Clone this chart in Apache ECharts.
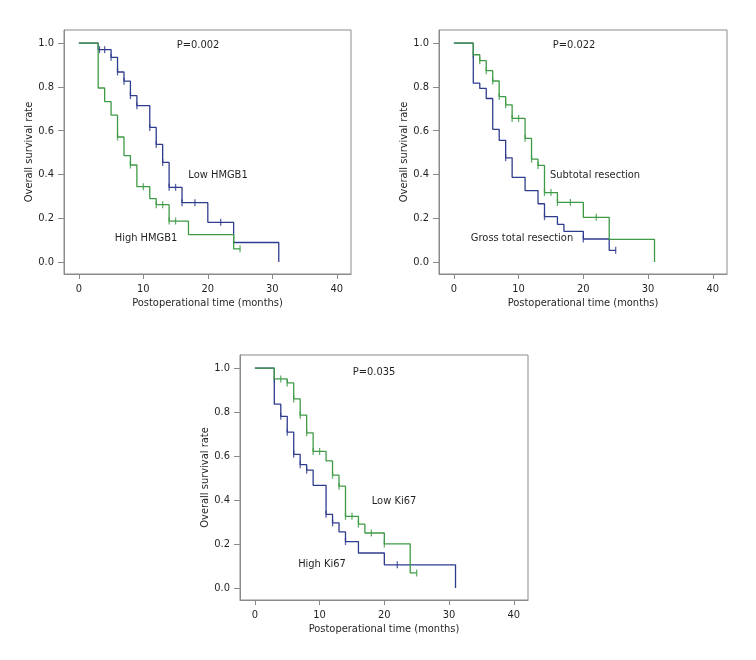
<!DOCTYPE html>
<html>
<head>
<meta charset="utf-8">
<script src="https://cdn.jsdelivr.net/npm/echarts@6/dist/echarts.min.js"></script>
<style>
  html, body { margin: 0; padding: 0; background: #fff; }
  #chart { width: 756px; height: 660px; }
</style>
</head>
<body>
<div id="chart"></div>
<script>
/* data */
const xTicks = [0, 10, 20, 30, 40];
const yTicks = [0, 0.2, 0.4, 0.6, 0.8, 1.0];
const pLabels = ["P=0.002", "P=0.022", "P=0.035"];

// panel 1 : HMGB1
const lowHmgbTime = [0, 3, 5, 6, 7, 8, 9, 11, 12, 13, 14, 16, 20, 24, 31];
const lowHmgbSurv = [1, 0.97, 0.935, 0.868, 0.826, 0.76, 0.714, 0.615, 0.537, 0.455, 0.341, 0.271, 0.181, 0.089, 0];
const lowHmgbCensor = [3.2, 4, 5, 6, 7, 8, 9, 11, 12, 13, 14, 15, 16, 18, 22];
const highHmgbTime = [0, 3, 4, 5, 6, 7, 8, 9, 11, 12, 14, 17, 24, 25];
const highHmgbSurv = [1, 0.795, 0.733, 0.671, 0.571, 0.486, 0.443, 0.344, 0.289, 0.262, 0.187, 0.125, 0.06, 0.06];
const highHmgbCensor = [6, 8, 10, 12, 13, 14, 15, 25];

// panel 2 : resection
const grossTime = [0, 3, 4, 5, 6, 7, 8, 9, 11, 13, 14, 16, 17, 20, 24, 25];
const grossSurv = [1, 0.817, 0.793, 0.747, 0.606, 0.556, 0.476, 0.387, 0.326, 0.266, 0.207, 0.172, 0.14, 0.105, 0.053, 0.053];
const grossCensor = [8, 14, 20, 25];
const subTime = [0, 3, 4, 5, 6, 7, 8, 9, 11, 12, 13, 14, 16, 20, 24, 31];
const subSurv = [1, 0.947, 0.92, 0.874, 0.827, 0.756, 0.718, 0.656, 0.565, 0.47, 0.441, 0.317, 0.272, 0.204, 0.103, 0];
const subCensor = [3, 4, 5, 6, 7, 8, 9, 10, 11, 12, 13, 14, 15, 16, 18, 22];

// panel 3 : Ki67
const highKiTime = [0, 3, 4, 5, 6, 7, 8, 9, 11, 12, 13, 14, 16, 20, 31];
const highKiSurv = [1, 0.836, 0.781, 0.709, 0.608, 0.561, 0.536, 0.467, 0.335, 0.296, 0.255, 0.211, 0.159, 0.105, 0];
const highKiCensor = [4, 5, 6, 7, 8, 11, 12, 14, 22];
const lowKiTime = [0, 3, 5, 6, 7, 8, 9, 11, 12, 13, 14, 16, 17, 20, 24, 25];
const lowKiSurv = [1, 0.951, 0.933, 0.86, 0.786, 0.706, 0.621, 0.578, 0.513, 0.463, 0.326, 0.29, 0.25, 0.2, 0.068, 0.068];
const lowKiCensor = [3, 4, 5, 6, 7, 8, 9, 10, 12, 13, 14, 15, 16, 18, 20, 25];


const FONT = '"Liberation Sans Narrow", "DejaVu Sans Condensed", sans-serif';
const BLUE = "#2f3c8e";
const GREEN = "#3e9a45";
const AXIS = "#8a8a8a";
const TEXT = "#231f20";

const grids = [
  { left: 64, top: 30, width: 287, height: 244 },
  { left: 439, top: 30, width: 288, height: 244 },
  { left: 240, top: 355, width: 288, height: 245 }
];

// survival level of a curve at time t (for censor marks)
function levelAt(times, surv, t) {
  let v = surv[0];
  for (let i = 0; i < times.length; i++) {
    if (times[i] <= t) v = surv[i];
  }
  return v;
}

function curve(idx, times, surv, color) {
  return {
    type: "line",
    xAxisIndex: idx,
    yAxisIndex: idx,
    step: "end",
    showSymbol: false,
    silent: true,
    lineStyle: { color: color, width: 1.3 },
    data: times.map((t, i) => [t, surv[i]])
  };
}

function censor(idx, times, surv, marks, color) {
  return {
    type: "scatter",
    xAxisIndex: idx,
    yAxisIndex: idx,
    symbol: "rect",
    symbolSize: [1.3, 7],
    silent: true,
    itemStyle: { color: color },
    data: marks.map(t => [t, levelAt(times, surv, t)])
  };
}

const xAxes = grids.map((g, i) => ({
  gridIndex: i,
  type: "value",
  min: -2.3,
  max: 42.2,
  name: "Postoperational time (months)",
  nameLocation: "middle",
  nameGap: 24,
  nameTextStyle: { fontFamily: FONT, fontSize: 11, color: TEXT },
  axisLine: { onZero: false, lineStyle: { color: AXIS, width: 1 } },
  axisTick: { customValues: xTicks, length: 5, lineStyle: { color: AXIS } },
  axisLabel: { customValues: xTicks, margin: 10, fontFamily: FONT, fontSize: 11, color: TEXT },
  splitLine: { show: false }
}));

const yAxes = grids.map((g, i) => ({
  gridIndex: i,
  type: "value",
  min: -0.055,
  max: 1.06,
  name: "Overall survival rate",
  nameLocation: "middle",
  nameGap: 29,
  nameTextStyle: { fontFamily: FONT, fontSize: 11, color: TEXT },
  axisLine: { onZero: false, lineStyle: { color: AXIS, width: 1 } },
  axisTick: { customValues: yTicks, length: 6, lineStyle: { color: AXIS } },
  axisLabel: {
    customValues: yTicks, margin: 10, fontFamily: FONT, fontSize: 11, color: TEXT,
    formatter: v => v.toFixed(1)
  },
  splitLine: { show: false }
}));

function note(text, x, y) {
  return {
    type: "text",
    x: x,
    y: y,
    style: {
      text: text,
      fontFamily: FONT,
      fontSize: 11,
      fill: TEXT,
      align: "center",
      verticalAlign: "middle"
    }
  };
}

const chart = echarts.init(document.getElementById("chart"));
chart.setOption({
  backgroundColor: "#fff",
  animation: false,
  grid: grids.map(g => Object.assign({ show: true, borderColor: AXIS, borderWidth: 1 }, g)),
  xAxis: xAxes,
  yAxis: yAxes,
  series: [
    curve(0, lowHmgbTime, lowHmgbSurv, BLUE),
    censor(0, lowHmgbTime, lowHmgbSurv, lowHmgbCensor, BLUE),
    curve(0, highHmgbTime, highHmgbSurv, GREEN),
    censor(0, highHmgbTime, highHmgbSurv, highHmgbCensor, GREEN),

    curve(1, grossTime, grossSurv, BLUE),
    censor(1, grossTime, grossSurv, grossCensor, BLUE),
    curve(1, subTime, subSurv, GREEN),
    censor(1, subTime, subSurv, subCensor, GREEN),

    curve(2, highKiTime, highKiSurv, BLUE),
    censor(2, highKiTime, highKiSurv, highKiCensor, BLUE),
    curve(2, lowKiTime, lowKiSurv, GREEN),
    censor(2, lowKiTime, lowKiSurv, lowKiCensor, GREEN)
  ],
  graphic: [
    note(pLabels[0], 198, 45),
    note("Low HMGB1", 218, 175),
    note("High HMGB1", 146, 238),
    note(pLabels[1], 574, 45),
    note("Subtotal resection", 595, 175),
    note("Gross total resection", 522, 238),
    note(pLabels[2], 374, 372),
    note("Low Ki67", 394, 501),
    note("High Ki67", 322, 564)
  ]
});
</script>
</body>
</html>
